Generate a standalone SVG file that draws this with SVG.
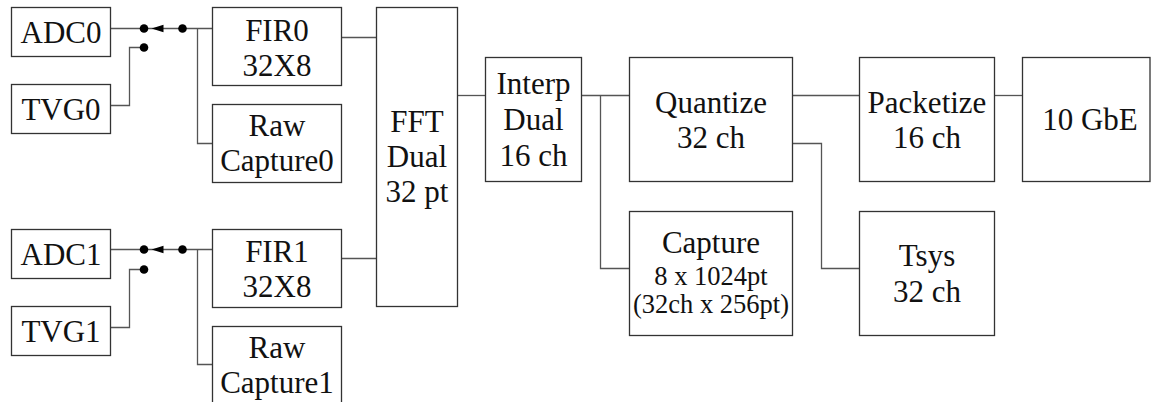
<svg xmlns="http://www.w3.org/2000/svg" width="1151" height="402" viewBox="0 0 1151 402">
<style>
.box{fill:#fff;stroke:#333;stroke-width:1.3}
.t{font-size:31px;fill:#111;text-anchor:middle}
.s{font-size:26.5px}
.w{fill:none;stroke:#555;stroke-width:1.3}
.dot{fill:#000}
</style>
<rect width="1151" height="402" fill="#fff"/>
<g id="connectors">
<path class="w" d="M110.5 28.5H213"/>
<path class="w" d="M110.5 105.5H129.5V47.5H144"/>
<path class="w" d="M197.5 28.5V143.5H213"/>
<path class="w" d="M110.5 249.5H213"/>
<path class="w" d="M110.5 327.5H129.5V269.5H144"/>
<path class="w" d="M197.5 249.5V364.5H213"/>
<path class="w" d="M341 37.5H376"/>
<path class="w" d="M341 258.5H376"/>
<path class="w" d="M457 95.5H485"/>
<path class="w" d="M581 95.5H629"/>
<path class="w" d="M600.5 95.5V268.5H629"/>
<path class="w" d="M792 95.5H859"/>
<path class="w" d="M792 143.5H821.5V268.5H859"/>
<path class="w" d="M994 95.5H1022"/>
<circle class="dot" cx="144" cy="28.5" r="4.3"/>
<circle class="dot" cx="182.5" cy="28.5" r="4.3"/>
<circle class="dot" cx="144" cy="47.5" r="4.3"/>
<path class="dot" d="M151.5 28.5L163.5 24.8V32.2Z"/>
<circle class="dot" cx="144" cy="249.5" r="4.3"/>
<circle class="dot" cx="182.5" cy="249.5" r="4.3"/>
<circle class="dot" cx="144" cy="269.5" r="4.3"/>
<path class="dot" d="M151.5 249.5L163.5 245.8V253.2Z"/>
</g>
<g font-family="Liberation Serif, DejaVu Serif, serif">
<g id="adc0"><rect class="box" x="11.5" y="7.5" width="99" height="49"/><text class="t" x="61" y="43">ADC0</text></g>
<g id="tvg0"><rect class="box" x="11.5" y="84.5" width="99" height="49"/><text class="t" x="61" y="120">TVG0</text></g>
<g id="adc1"><rect class="box" x="11.5" y="229.5" width="99" height="49"/><text class="t" x="61" y="265">ADC1</text></g>
<g id="tvg1"><rect class="box" x="11.5" y="306.5" width="99" height="49"/><text class="t" x="61" y="341.5">TVG1</text></g>
<g id="fir0"><rect class="box" x="212.5" y="7.5" width="129" height="78"/><text class="t" x="277" y="40.7">FIR0</text><text class="t" x="277" y="76">32X8</text></g>
<g id="raw0"><rect class="box" x="212.5" y="104.5" width="129" height="78"/><text class="t" x="277" y="136">Raw</text><text class="t" x="277" y="170.7">Capture0</text></g>
<g id="fir1"><rect class="box" x="212.5" y="229.5" width="129" height="78"/><text class="t" x="277" y="262.3">FIR1</text><text class="t" x="277" y="296.7">32X8</text></g>
<g id="raw1"><rect class="box" x="212.5" y="326.5" width="129" height="78"/><text class="t" x="277" y="357.7">Raw</text><text class="t" x="277" y="392.7">Capture1</text></g>
<g id="fft"><rect class="box" x="376.5" y="7.5" width="81" height="299"/><text class="t" x="417" y="131.7">FFT</text><text class="t" x="417" y="166.7">Dual</text><text class="t" x="417" y="201.7">32 pt</text></g>
<g id="interp"><rect class="box" x="485.5" y="57.5" width="96" height="124"/><text class="t" x="533.5" y="94.3">Interp</text><text class="t" x="533.5" y="130">Dual</text><text class="t" x="533.5" y="165.7">16 ch</text></g>
<g id="quantize"><rect class="box" x="629.5" y="57.5" width="163" height="124"/><text class="t" x="711" y="112.7">Quantize</text><text class="t" x="711" y="148.3">32 ch</text></g>
<g id="capture"><rect class="box" x="629.5" y="211.5" width="163" height="124"/><text class="t" x="711" y="253.3">Capture</text><text class="t s" x="711" y="285">8 x 1024pt</text><text class="t s" x="711" y="313.3">(32ch x 256pt)</text></g>
<g id="packetize"><rect class="box" x="859.5" y="57.5" width="135" height="124"/><text class="t" x="927" y="112.7">Packetize</text><text class="t" x="927" y="148.3">16 ch</text></g>
<g id="tsys"><rect class="box" x="859.5" y="211.5" width="135" height="124"/><text class="t" x="927" y="265.7">Tsys</text><text class="t" x="927" y="301.7">32 ch</text></g>
<g id="gbe"><rect class="box" x="1022.5" y="57.5" width="127.5" height="124"/><text class="t" x="1090" y="130">10 GbE</text></g>
</g>
</svg>
